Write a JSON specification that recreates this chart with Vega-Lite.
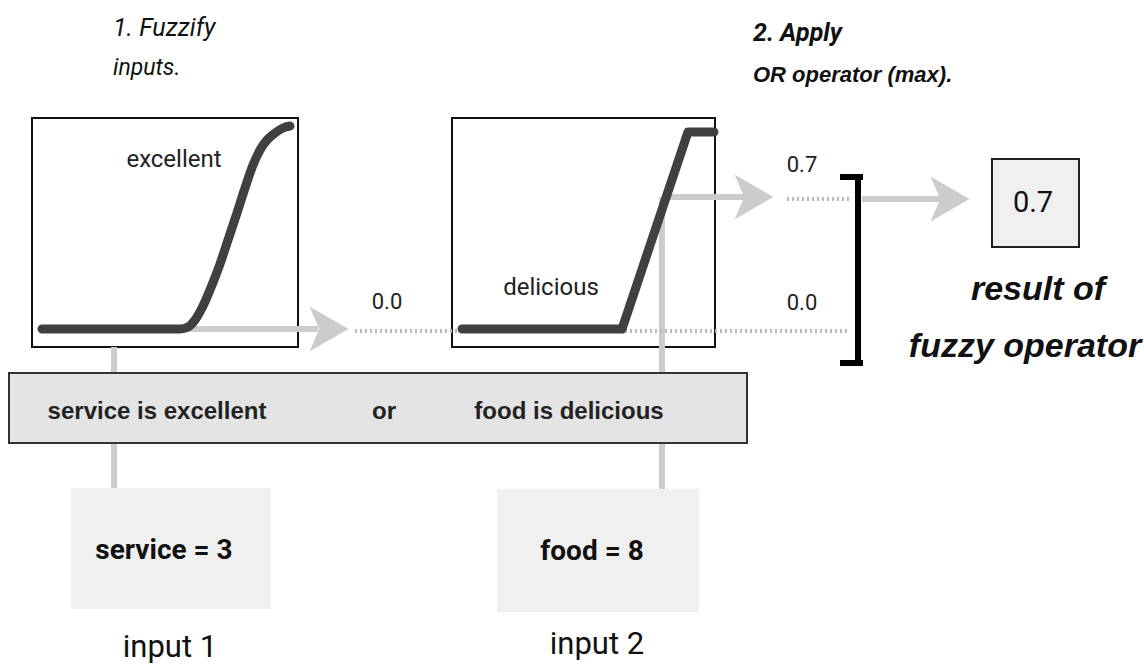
{
  "$schema": "https://vega.github.io/schema/vega-lite/v6.json",
  "width": 1144,
  "height": 670,
  "padding": 0,
  "autosize": {"type": "fit", "contains": "padding"},
  "background": "white",
  "config": {"view": {"stroke": null}},
  "datasets": {
    "whiteBoxes": [{"x": 32, "x2": 298, "y": 118, "y2": 347}, {"x": 452, "x2": 715, "y": 118, "y2": 347}],
    "band": [{"x": 9, "x2": 747, "y": 373, "y2": 443}],
    "inputBoxes": [{"x": 71, "x2": 271, "y": 488, "y2": 609}, {"x": 497, "x2": 699, "y": 489, "y2": 612}],
    "resultBox": [{"x": 992, "x2": 1079, "y": 159, "y2": 247}],
    "grayLines": [
      {"x": 114, "y": 347, "x2": 114, "y2": 488},
      {"x": 662, "y": 197, "x2": 662, "y2": 489},
      {"x": 183, "y": 329, "x2": 318, "y2": 329},
      {"x": 662, "y": 197, "x2": 745, "y2": 197},
      {"x": 862, "y": 199, "x2": 940, "y2": 199}
    ],
    "arrowHeads": [{"x": 329, "y": 329}, {"x": 754, "y": 197}, {"x": 950, "y": 199}],
    "dotted": [{"x": 355, "y": 331, "x2": 850, "y2": 331}, {"x": 787, "y": 199, "x2": 850, "y2": 199}],
    "bracket": [{"x": 858, "y": 177, "x2": 858, "y2": 363}, {"x": 843, "y": 177, "x2": 860, "y2": 177}, {"x": 843, "y": 363, "x2": 860, "y2": 363}],
    "curve1": [
      {"x": 42, "y": 329}, {"x": 180, "y": 329}, {"x": 188, "y": 327}, {"x": 195, "y": 320}, {"x": 203, "y": 306},
      {"x": 212, "y": 285}, {"x": 220, "y": 264}, {"x": 228, "y": 240}, {"x": 237, "y": 213}, {"x": 245, "y": 188},
      {"x": 253, "y": 165}, {"x": 260, "y": 150}, {"x": 267, "y": 140}, {"x": 275, "y": 133}, {"x": 283, "y": 128}, {"x": 290, "y": 126}
    ],
    "curve2": [{"x": 462, "y": 329}, {"x": 622, "y": 329}, {"x": 688, "y": 132}, {"x": 714, "y": 132}],
    "stepTitle": [{"x": 113, "y": 28, "t": "1. Fuzzify"}],
    "stepSub": [{"x": 113, "y": 68, "t": "inputs."}],
    "step2Title": [{"x": 753, "y": 33, "t": "2. Apply"}],
    "step2Sub": [{"x": 753, "y": 75, "t": "OR operator (max)."}],
    "mfLabels": [{"x": 174, "y": 160, "t": "excellent"}, {"x": 551, "y": 288, "t": "delicious"}],
    "values": [{"x": 387, "y": 302, "t": "0.0"}, {"x": 802, "y": 165, "t": "0.7"}, {"x": 802, "y": 303, "t": "0.0"}],
    "bandText": [{"x": 157, "y": 412, "t": "service is excellent"}, {"x": 384, "y": 412, "t": "or"}, {"x": 569, "y": 412, "t": "food is delicious"}],
    "inputVals": [{"x": 164, "y": 551, "t": "service = 3"}, {"x": 592, "y": 552, "t": "food = 8"}],
    "inputNames": [{"x": 170, "y": 648, "t": "input 1"}, {"x": 597, "y": 645, "t": "input 2"}],
    "resultVal": [{"x": 1033, "y": 203, "t": "0.7"}],
    "resultText": [{"x": 1038, "y": 290, "t": "result of"}, {"x": 1025, "y": 347, "t": "fuzzy operator"}]
  },
  "encoding": {
    "x": {"field": "x", "type": "quantitative", "axis": null, "scale": {"domain": [0, 1144], "nice": false, "zero": false}},
    "y": {"field": "y", "type": "quantitative", "axis": null, "scale": {"domain": [0, 670], "nice": false, "zero": false, "reverse": true}}
  },
  "layer": [
    {"data": {"name": "whiteBoxes"}, "mark": {"type": "rect", "fill": "white", "stroke": "#111111", "strokeWidth": 2},
     "encoding": {"x2": {"field": "x2"}, "y2": {"field": "y2"}}},
    {"data": {"name": "inputBoxes"}, "mark": {"type": "rect", "fill": "#f0f0f0"},
     "encoding": {"x2": {"field": "x2"}, "y2": {"field": "y2"}}},
    {"data": {"name": "resultBox"}, "mark": {"type": "rect", "fill": "#f0f0f0", "stroke": "#222222", "strokeWidth": 2},
     "encoding": {"x2": {"field": "x2"}, "y2": {"field": "y2"}}},
    {"data": {"name": "grayLines"}, "mark": {"type": "rule", "stroke": "#cccccc", "strokeWidth": 6},
     "encoding": {"x2": {"field": "x2"}, "y2": {"field": "y2"}}},
    {"data": {"name": "band"}, "mark": {"type": "rect", "fill": "#e4e4e4", "stroke": "#333333", "strokeWidth": 2},
     "encoding": {"x2": {"field": "x2"}, "y2": {"field": "y2"}}},
    {"data": {"name": "arrowHeads"}, "mark": {"type": "point", "shape": "M-1,-1.15L1,0L-1,1.15L-0.5,0Z", "filled": true, "size": 1521, "color": "#cccccc", "opacity": 1}},
    {"data": {"name": "dotted"}, "mark": {"type": "rule", "stroke": "#bbbbbb", "strokeWidth": 4, "strokeDash": [2, 3]},
     "encoding": {"x2": {"field": "x2"}, "y2": {"field": "y2"}}},
    {"data": {"name": "bracket"}, "mark": {"type": "rule", "stroke": "#000000", "strokeWidth": 6, "strokeCap": "square"},
     "encoding": {"x2": {"field": "x2"}, "y2": {"field": "y2"}}},
    {"data": {"name": "curve1"}, "mark": {"type": "line", "stroke": "#404040", "strokeWidth": 9, "strokeCap": "round", "strokeJoin": "round", "interpolate": "monotone"}},
    {"data": {"name": "curve2"}, "mark": {"type": "line", "stroke": "#404040", "strokeWidth": 9, "strokeCap": "round", "strokeJoin": "round"}},
    {"data": {"name": "stepTitle"}, "mark": {"type": "text", "align": "left", "baseline": "middle", "font": "Roboto", "fontStyle": "italic", "fontSize": 25, "color": "#111111"}, "encoding": {"text": {"field": "t"}}},
    {"data": {"name": "stepSub"}, "mark": {"type": "text", "align": "left", "baseline": "middle", "font": "Roboto", "fontStyle": "italic", "fontSize": 23, "color": "#111111"}, "encoding": {"text": {"field": "t"}}},
    {"data": {"name": "step2Title"}, "mark": {"type": "text", "align": "left", "baseline": "middle", "font": "Roboto", "fontStyle": "italic", "fontWeight": "bold", "fontSize": 25, "color": "#111111"}, "encoding": {"text": {"field": "t"}}},
    {"data": {"name": "step2Sub"}, "mark": {"type": "text", "align": "left", "baseline": "middle", "font": "Liberation Sans", "fontStyle": "italic", "fontWeight": "bold", "fontSize": 22, "color": "#111111"}, "encoding": {"text": {"field": "t"}}},
    {"data": {"name": "mfLabels"}, "mark": {"type": "text", "align": "center", "baseline": "middle", "font": "Roboto", "fontSize": 24, "color": "#222222"}, "encoding": {"text": {"field": "t"}}},
    {"data": {"name": "values"}, "mark": {"type": "text", "align": "center", "baseline": "middle", "font": "Roboto", "fontSize": 22, "color": "#222222"}, "encoding": {"text": {"field": "t"}}},
    {"data": {"name": "bandText"}, "mark": {"type": "text", "align": "center", "baseline": "middle", "font": "Liberation Sans", "fontWeight": "bold", "fontSize": 24, "color": "#222222"}, "encoding": {"text": {"field": "t"}}},
    {"data": {"name": "inputVals"}, "mark": {"type": "text", "align": "center", "baseline": "middle", "font": "Roboto", "fontWeight": "bold", "fontSize": 28, "color": "#111111"}, "encoding": {"text": {"field": "t"}}},
    {"data": {"name": "inputNames"}, "mark": {"type": "text", "align": "center", "baseline": "middle", "font": "Roboto", "fontSize": 31, "color": "#111111"}, "encoding": {"text": {"field": "t"}}},
    {"data": {"name": "resultVal"}, "mark": {"type": "text", "align": "center", "baseline": "middle", "font": "Roboto", "fontSize": 29, "color": "#111111"}, "encoding": {"text": {"field": "t"}}},
    {"data": {"name": "resultText"}, "mark": {"type": "text", "align": "center", "baseline": "middle", "font": "Liberation Sans", "fontStyle": "italic", "fontWeight": "bold", "fontSize": 34, "color": "#111111"}, "encoding": {"text": {"field": "t"}}}
  ]
}
